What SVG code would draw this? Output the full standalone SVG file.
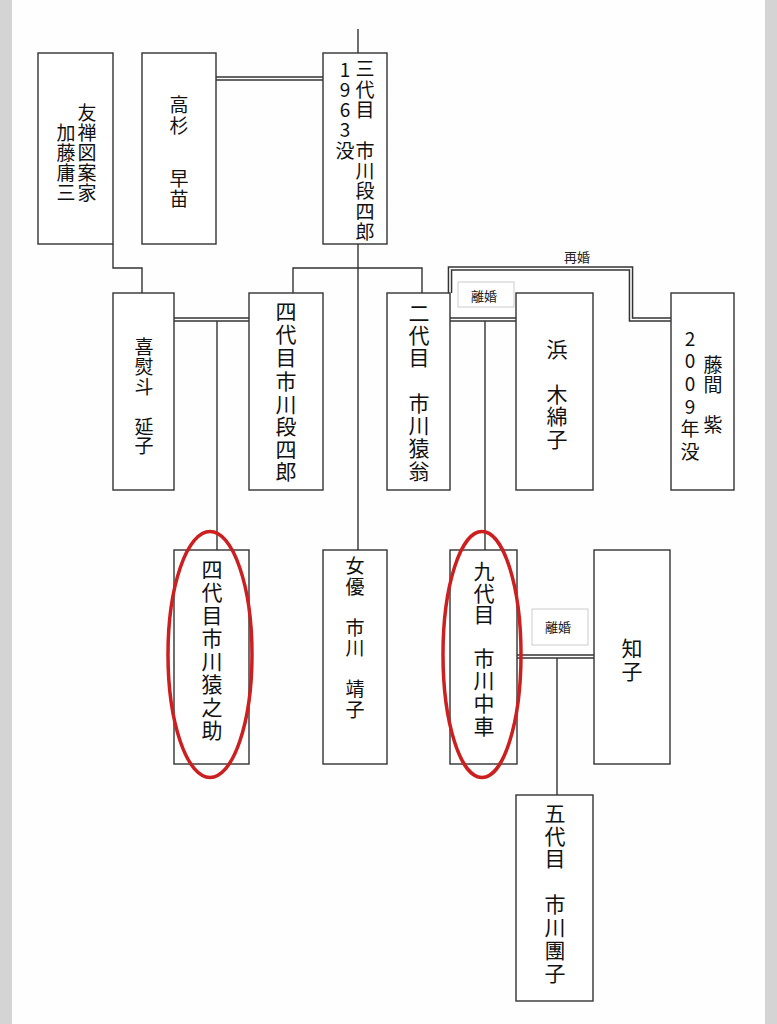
<svg xmlns="http://www.w3.org/2000/svg" width="777" height="1024" viewBox="0 0 777 1024">
<style>
.box{fill:#fff;stroke:#333;stroke-width:1.4}
.ln{fill:none;stroke:#333;stroke-width:1.4}
.dbo{fill:none;stroke:#333;stroke-width:4.6}
.dbi{fill:none;stroke:#fff;stroke-width:1.6}
.t{font-family:"Noto Sans CJK JP","Noto Sans",sans-serif;fill:#111;text-anchor:middle;dominant-baseline:central}
.s19{font-size:19px}
.s21{font-size:21px}
.lbl{font-family:"Noto Sans CJK JP","Noto Sans",sans-serif;font-size:13px;fill:#222;text-anchor:middle;dominant-baseline:central}
.lblbox{fill:#fff;stroke:#ccc;stroke-width:1}
.ring{fill:none;stroke:#cc1f1f;stroke-width:3.5}
</style>
<rect x="0" y="0" width="777" height="1024" fill="#fefefe"/>
<rect x="0" y="0" width="12" height="1024" fill="#d4d4d4"/>
<rect x="765" y="0" width="12" height="1024" fill="#d4d4d4"/>

<g id="connectors">
<path class="ln" d="M358,29V53"/>
<path class="ln" d="M358,244V550"/>
<path class="ln" d="M113,244V268H142V293"/>
<path class="ln" d="M293,293V268H422V293"/>
<path class="ln" d="M217,321V550"/>
<path class="ln" d="M485,321V550"/>
<path class="ln" d="M557,658V795"/>
<path class="dbo" d="M216,78.5H323"/>
<path class="dbi" d="M216,78.5H323"/>
<path class="dbo" d="M174,319.5H249"/>
<path class="dbi" d="M174,319.5H249"/>
<path class="dbo" d="M450,319.5H516"/>
<path class="dbi" d="M450,319.5H516"/>
<path class="dbo" d="M450,293V268.5H631V319.5H671"/>
<path class="dbi" d="M450,293V268.5H631V319.5H671"/>
<path class="dbo" d="M517,656.5H594"/>
<path class="dbi" d="M517,656.5H594"/>
<rect class="lblbox" x="458" y="282" width="56" height="25"/>
<text class="lbl" x="484" y="295">離婚</text>
<text class="lbl" x="577" y="256">再婚</text>
<rect class="lblbox" x="532" y="609" width="56" height="36"/>
<text class="lbl" x="558" y="626">離婚</text>
</g>

<g id="n-kato">
<rect class="box" x="38" y="53" width="75" height="191"/>
<text class="t s19"><tspan x="87" y="111">友</tspan><tspan x="87" y="131">禅</tspan><tspan x="87" y="151">図</tspan><tspan x="87" y="171">案</tspan><tspan x="87" y="191">家</tspan><tspan x="66" y="131">加</tspan><tspan x="66" y="151">藤</tspan><tspan x="66" y="171">庸</tspan><tspan x="66" y="191">三</tspan></text>
</g>

<g id="n-takasugi">
<rect class="box" x="142" y="53" width="74" height="191"/>
<text class="t s19"><tspan x="179" y="103">高</tspan><tspan x="179" y="124">杉</tspan><tspan x="179" y="177">早</tspan><tspan x="179" y="197">苗</tspan></text>
</g>

<g id="n-danshiro3">
<rect class="box" x="323" y="53" width="64" height="191"/>
<text class="t s19"><tspan x="365" y="67">三</tspan><tspan x="365" y="87.5">代</tspan><tspan x="365" y="108">目</tspan><tspan x="365" y="148.5">市</tspan><tspan x="365" y="169">川</tspan><tspan x="365" y="189">段</tspan><tspan x="365" y="210">四</tspan><tspan x="365" y="230">郎</tspan><tspan x="345" y="68">1</tspan><tspan x="345" y="87.5">9</tspan><tspan x="345" y="108">6</tspan><tspan x="345" y="128">3</tspan><tspan x="345" y="148.5">没</tspan></text>
</g>

<g id="n-nobuko">
<rect class="box" x="113" y="293" width="61" height="197"/>
<text class="t s19"><tspan x="144" y="345">喜</tspan><tspan x="144" y="365">熨</tspan><tspan x="144" y="385">斗</tspan><tspan x="144" y="425">延</tspan><tspan x="144" y="444">子</tspan></text>
</g>

<g id="n-danshiro4">
<rect class="box" x="249" y="293" width="74" height="197"/>
<text class="t s21"><tspan x="286" y="310">四</tspan><tspan x="286" y="333">代</tspan><tspan x="286" y="356">目</tspan><tspan x="286" y="380">市</tspan><tspan x="286" y="403">川</tspan><tspan x="286" y="425">段</tspan><tspan x="286" y="448">四</tspan><tspan x="286" y="470">郎</tspan></text>
</g>

<g id="n-ennou2">
<rect class="box" x="387" y="293" width="63" height="197"/>
<text class="t s21"><tspan x="419" y="312">二</tspan><tspan x="419" y="334">代</tspan><tspan x="419" y="356">目</tspan><tspan x="419" y="402">市</tspan><tspan x="419" y="424">川</tspan><tspan x="419" y="447">猿</tspan><tspan x="419" y="470">翁</tspan></text>
</g>

<g id="n-hama">
<rect class="box" x="516" y="293" width="77" height="197"/>
<text class="t s21"><tspan x="557" y="347.5">浜</tspan><tspan x="557" y="392.5">木</tspan><tspan x="557" y="415">綿</tspan><tspan x="557" y="437.5">子</tspan></text>
</g>

<g id="n-fujima">
<rect class="box" x="671" y="293" width="63" height="197"/>
<text class="t s19"><tspan x="713" y="363">藤</tspan><tspan x="713" y="383">間</tspan><tspan x="713" y="423">紫</tspan><tspan x="690" y="337">2</tspan><tspan x="690" y="359">0</tspan><tspan x="690" y="382">0</tspan><tspan x="690" y="405">9</tspan><tspan x="690" y="427">年</tspan><tspan x="690" y="450">没</tspan></text>
</g>

<g id="n-ennosuke4">
<rect class="box" x="174" y="550" width="75" height="214"/>
<text class="t s21"><tspan x="212" y="568">四</tspan><tspan x="212" y="591">代</tspan><tspan x="212" y="614">目</tspan><tspan x="212" y="637">市</tspan><tspan x="212" y="660">川</tspan><tspan x="212" y="683">猿</tspan><tspan x="212" y="706">之</tspan><tspan x="212" y="729">助</tspan></text>
</g>

<g id="n-yasuko">
<rect class="box" x="323" y="550" width="64" height="214"/>
<text class="t s19"><tspan x="355" y="564">女</tspan><tspan x="355" y="584.5">優</tspan><tspan x="355" y="625.5">市</tspan><tspan x="355" y="646">川</tspan><tspan x="355" y="687">靖</tspan><tspan x="355" y="707.5">子</tspan></text>
</g>

<g id="n-chusha9">
<rect class="box" x="450" y="550" width="67" height="214"/>
<text class="t s21"><tspan x="484" y="570">九</tspan><tspan x="484" y="592">代</tspan><tspan x="484" y="613">目</tspan><tspan x="484" y="657">市</tspan><tspan x="484" y="679">川</tspan><tspan x="484" y="702">中</tspan><tspan x="484" y="725">車</tspan></text>
</g>

<g id="n-tomoko">
<rect class="box" x="594" y="550" width="76" height="214"/>
<text class="t s21"><tspan x="632" y="647">知</tspan><tspan x="632" y="670">子</tspan></text>
</g>

<g id="n-danko5">
<rect class="box" x="516" y="795" width="77" height="206"/>
<text class="t s21"><tspan x="555" y="812">五</tspan><tspan x="555" y="835">代</tspan><tspan x="555" y="857">目</tspan><tspan x="555" y="903">市</tspan><tspan x="555" y="926">川</tspan><tspan x="555" y="949">團</tspan><tspan x="555" y="972">子</tspan></text>
</g>

<g id="highlights">
<ellipse class="ring" cx="210" cy="654.5" rx="42" ry="123"/>
<ellipse class="ring" cx="482" cy="654.5" rx="39" ry="123"/>
</g>
</svg>
